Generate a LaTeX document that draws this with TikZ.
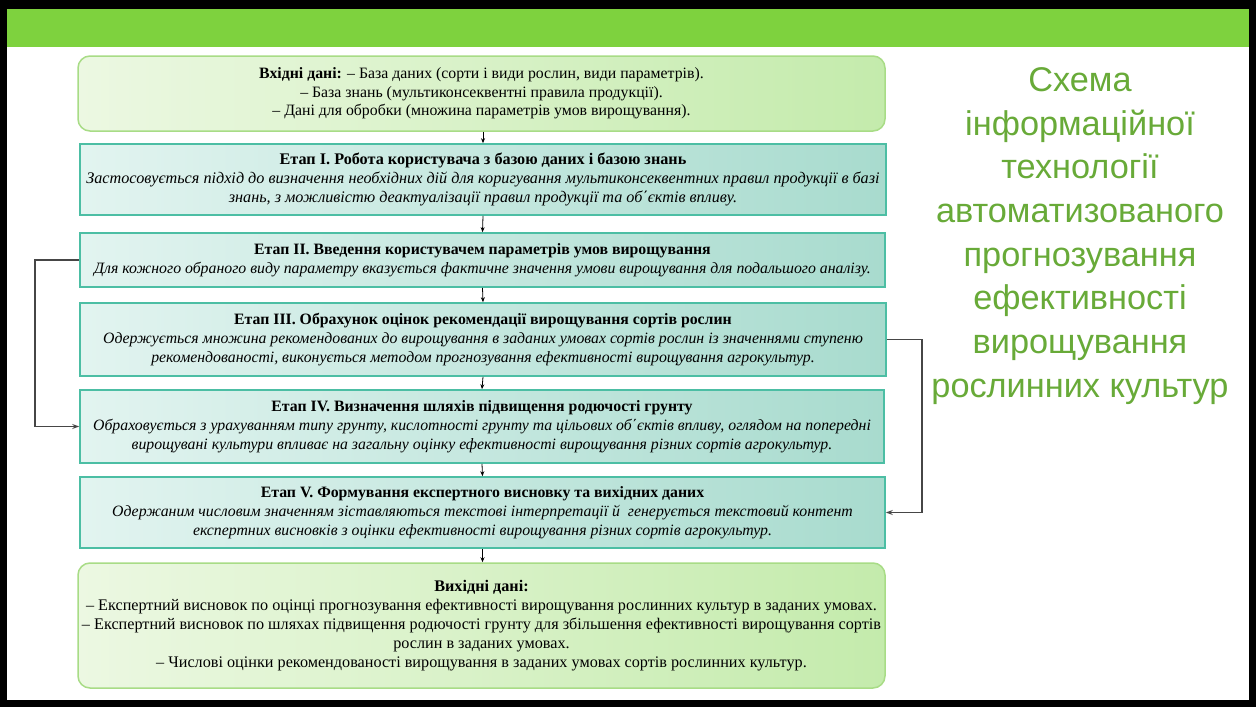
\documentclass[tikz,border=0pt]{standalone}
\usepackage{fontspec}
\setmainfont{Liberation Serif}
\newfontfamily\titlefont{Liberation Sans}
\usetikzlibrary{arrows.meta}
\definecolor{hdrgreen}{RGB}{126,210,62}
\definecolor{titlegreen}{RGB}{104,170,56}
\definecolor{inL}{RGB}{236,248,226}
\definecolor{inR}{RGB}{196,235,172}
\definecolor{inB}{RGB}{168,220,134}
\definecolor{stL}{RGB}{226,244,240}
\definecolor{stR}{RGB}{168,219,206}
\definecolor{stB}{RGB}{76,190,164}
\definecolor{connc}{RGB}{70,70,70}
\tikzset{
  iobox/.style={draw=inB, line width=1.5pt, rounded corners=12pt, left color=inL, right color=inR, align=center, inner sep=0pt, font=\fontsize{15.8}{18.3}\selectfont},
  stagebox/.style={draw=stB, line width=1.6pt, left color=stL, right color=stR, align=center, inner sep=0pt, font=\fontsize{15.8}{19}\selectfont},
  arr/.style={-{Stealth[length=5pt,width=4pt]}, line width=0.8pt, black},
  conn/.style={-{Stealth[length=7pt,width=5pt]}, line width=1.5pt, connc},
}
\begin{document}
\begin{tikzpicture}[x=1pt,y=-1pt]
\useasboundingbox (0,0) rectangle (1256,707);
\fill[black] (0,0) rectangle (1256,707);
\fill[white] (7,9) rectangle (1249,700);
\fill[hdrgreen] (7,9) rectangle (1249,47);

\node[iobox, minimum width=807, minimum height=75] (in) at (481.5,93.5)
 {\textbf{Вхідні дані:} – База даних (сорти і види рослин, види параметрів).\\
  – База знань (мультиконсеквентні правила продукції).\\
  – Дані для обробки (множина параметрів умов вирощування).};

\node[stagebox, minimum width=806, minimum height=71, font=\fontsize{16.2}{19}\selectfont] (s1) at (483,179.5)
 {\textbf{Етап I. Робота користувача з базою даних і базою знань}\\
  \textit{Застосовується підхід до визначення необхідних дій для коригування мультиконсеквентних правил продукції в базі}\\
  \textit{знань, з можливістю деактуалізації правил продукції та об΄єктів впливу.}};

\node[stagebox, minimum width=805, minimum height=54] (s2) at (482.5,260)
 {\textbf{Етап II. Введення користувачем параметрів умов вирощування}\\
  \textit{Для кожного обраного виду параметру вказується фактичне значення умови вирощування для подальшого аналізу.}};

\node[stagebox, minimum width=806, minimum height=73] (s3) at (483,339.5)
 {\textbf{Етап III. Обрахунок оцінок рекомендації вирощування сортів рослин}\\
  \textit{Одержується множина рекомендованих до вирощування в заданих умовах сортів рослин із значеннями ступеню}\\
  \textit{рекомендованості, виконується методом прогнозування ефективності вирощування агрокультур.}};

\node[stagebox, minimum width=804, minimum height=73] (s4) at (482,426.5)
 {\textbf{Етап IV. Визначення шляхів підвищення родючості грунту}\\
  \textit{Обраховується з урахуванням типу грунту, кислотності грунту та цільових об΄єктів впливу, оглядом на попередні}\\
  \textit{вирощувані культури впливає на загальну оцінку ефективності вирощування різних сортів агрокультур.}};

\node[stagebox, minimum width=805, minimum height=71] (s5) at (482.5,512.5)
 {\textbf{Етап V. Формування експертного висновку та вихідних даних}\\
  \textit{Одержаним числовим значенням зіставляються текстові інтерпретації й \ генерується текстовий контент}\\
  \textit{експертних висновків з оцінки ефективності вирощування різних сортів агрокультур.}};

\node[iobox, minimum width=807, minimum height=125, font=\fontsize{16.2}{19}\selectfont] (out) at (481.5,625.5)
 {\textbf{Вихідні дані:}\\
  – Експертний висновок по оцінці прогнозування ефективності вирощування рослинних культур в заданих умовах.\\
  – Експертний висновок по шляхах підвищення родючості грунту для збільшення ефективності вирощування сортів\\
  рослин в заданих умовах.\\
  – Числові оцінки рекомендованості вирощування в заданих умовах сортів рослинних культур.};

\draw[arr] (in.south -| s1.north) -- (s1.north);
\draw[arr] (s1.south) -- (s2.north);
\draw[arr] (s2.south) -- (s3.north);
\draw[arr] (s3.south) -- (s4.north);
\draw[arr] (s4.south) -- (s5.north);
\draw[arr] (s5.south) -- (out.north -| s5.south);

\draw[conn] (s2.west) -- ++(-44,0) |- (s4.west);
\draw[conn] (s3.east) -- ++(35,0) |- (s5.east);

\node[font=\titlefont\fontsize{34.3}{43.7}\selectfont, text=titlegreen, align=center] (title) at (1080,236)
 {Схема\\інформаційної\\технології\\автоматизованого\\прогнозування\\ефективності\\вирощування\\рослинних культур};
\end{tikzpicture}
\end{document}
